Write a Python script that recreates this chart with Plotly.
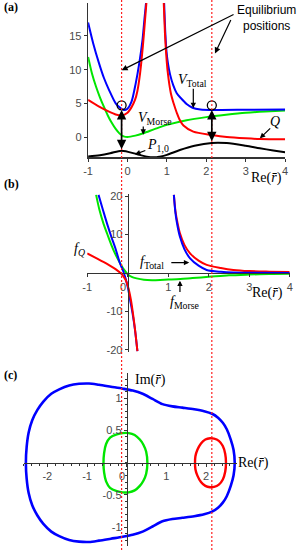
import plotly.graph_objects as go

W, H = 301, 550

# ---------------- data ----------------
# (a) potentials along Re(r)
a_total_left_x = [-1.0, -0.87, -0.72, -0.6, -0.47, -0.3, -0.18, -0.09, 0.0, 0.1, 0.21, 0.3, 0.38, 0.43, 0.47]
a_total_left_y = [17.0, 13.9, 10.9, 8.8, 7.0, 5.0, 4.3, 4.0, 4.2, 5.2, 8.0, 11.0, 14.4, 17.5, 19.9]
a_total_right_x = [0.93, 0.96, 0.99, 1.03, 1.08, 1.16, 1.25, 1.35, 1.5, 1.65, 1.85, 2.2, 3.0, 4.0]
a_total_right_y = [19.9, 15.5, 12.7, 10.8, 9.3, 7.7, 6.5, 5.8, 4.9, 4.35, 4.1, 4.02, 4.05, 4.1]
a_q_left_x = [-1.0, -0.72, -0.47, -0.3, -0.15, 0.0, 0.1, 0.19, 0.25, 0.32, 0.39, 0.44, 0.48]
a_q_left_y = [5.5, 4.5, 3.76, 3.35, 3.2, 3.6, 4.4, 5.5, 6.8, 9.5, 13.5, 17.0, 19.9]
a_q_right_x = [0.92, 0.95, 0.98, 1.02, 1.1, 1.17, 1.25, 1.32, 1.42, 1.67, 2.14, 2.52, 3.0, 3.36, 4.0]
a_q_right_y = [19.9, 15.5, 12.5, 9.7, 6.5, 5.0, 3.6, 2.6, 1.7, 0.8, 0.3, 0.0, -0.2, -0.3, -0.35]
a_morse_x = [-1.0, -0.9, -0.8, -0.7, -0.6, -0.5, -0.4, -0.3, -0.2, -0.1, 0.0, 0.2, 0.4, 0.7, 1.0, 1.5, 2.0, 2.5, 3.0, 3.5, 4.0]
a_morse_y = [11.9, 9.4, 7.5, 5.9, 4.5, 3.2, 2.1, 1.2, 0.5, 0.1, 0.0, 0.2, 0.55, 1.2, 1.8, 2.5, 2.95, 3.3, 3.6, 3.8, 3.95]
a_p_x = [-1.0, -0.7, -0.44, -0.15, 0.23, 0.49, 0.74, 0.82, 1.0, 1.33, 1.7, 2.14, 2.52, 3.0, 3.36, 3.7, 4.0]
a_p_y = [-2.88, -2.7, -2.42, -2.03, -2.53, -2.93, -3.0, -2.92, -2.65, -1.93, -1.3, -0.88, -0.9, -1.3, -1.68, -2.0, -2.28]

eq_x = [-0.15, 2.14]          # equilibrium positions
eq_circle_y = [4.7, 4.7]
eq_arrow_low = [-2.03, -0.85]
eq_arrow_high = [4.0, 4.0]

# (b) forces along Re(r)
b_q_left_x = [-1.0, -0.8, -0.6, -0.45, -0.3, -0.15, -0.05, 0.02, 0.08, 0.14, 0.19, 0.24]
b_q_left_y = [5.1, 4.0, 2.9, 2.0, 1.0, -0.3, -1.8, -4.0, -7.0, -11.3, -15.5, -20.3]
b_total_left_x = [-0.72, -0.6, -0.5, -0.4, -0.3, -0.2, -0.1, 0.0, 0.06, 0.12, 0.18, 0.24]
b_total_left_y = [20.3, 16.0, 12.5, 9.3, 6.3, 2.8, 0.2, -3.5, -7.0, -10.5, -14.8, -20.3]
b_morse_x = [-0.78, -0.7, -0.6, -0.5, -0.4, -0.3, -0.2, -0.1, 0.0, 0.1, 0.22, 0.4, 0.6, 0.8, 1.0, 1.3, 1.6, 2.0, 2.5, 3.0, 3.5, 4.0]
b_morse_y = [20.3, 16.5, 12.9, 10.0, 7.2, 4.8, 2.8, 1.0, -0.3, -1.0, -1.4, -1.75, -1.85, -1.8, -1.7, -1.55, -1.3, -1.0, -0.6, -0.4, -0.25, -0.2]
b_q_right_x = [1.14, 1.18, 1.23, 1.29, 1.4, 1.54, 1.75, 1.95, 2.3, 2.61, 3.0, 3.5, 4.0]
b_q_right_y = [20.3, 16.0, 13.0, 10.3, 7.3, 5.1, 3.2, 2.1, 1.3, 0.8, 0.5, 0.35, 0.25]
b_total_right_x = [1.14, 1.18, 1.23, 1.29, 1.4, 1.54, 1.75, 1.95, 2.3, 2.61, 3.0, 4.0]
b_total_right_y = [20.3, 15.5, 12.2, 9.4, 6.2, 3.8, 1.9, 0.8, 0.3, 0.1, 0.05, 0.0]

# (c) closed contours in the complex plane
c_blue_x = [2.72, 2.69, 2.62, 2.52, 2.42, 2.3, 2.15, 1.95, 1.7, 1.4, 1.15, 0.9, 0.65, 0.4, 0.15, -0.1,
            -0.4, -0.7, -0.95, -1.2, -1.45, -1.7, -1.9, -2.1, -2.25, -2.38, -2.47, -2.52, -2.54,
            -2.52, -2.47, -2.38, -2.25, -2.1, -1.9, -1.7, -1.45, -1.2, -0.95, -0.7, -0.4, -0.1,
            0.15, 0.4, 0.65, 0.9, 1.15, 1.4, 1.7, 1.95, 2.15, 2.3, 2.42, 2.52, 2.62, 2.69, 2.72]
c_blue_y = [0.0, 0.2, 0.36, 0.52, 0.62, 0.7, 0.76, 0.8, 0.83, 0.855, 0.875, 0.91, 0.99, 1.07, 1.12, 1.15,
            1.18, 1.21, 1.23, 1.225, 1.2, 1.14, 1.07, 0.95, 0.82, 0.66, 0.47, 0.25, 0.0,
            -0.25, -0.47, -0.66, -0.82, -0.95, -1.07, -1.14, -1.2, -1.225, -1.23, -1.21, -1.18, -1.15,
            -1.12, -1.07, -0.99, -0.91, -0.875, -0.855, -0.83, -0.8, -0.76, -0.7, -0.62, -0.52, -0.36, -0.2, 0.0]
c_green_x = [0.52, 0.49, 0.42, 0.33, 0.2, 0.05, -0.1, -0.25, -0.42, -0.52, -0.57, -0.585,
             -0.57, -0.52, -0.42, -0.25, -0.1, 0.05, 0.2, 0.33, 0.42, 0.49, 0.52]
c_green_y = [0.0, 0.17, 0.28, 0.36, 0.43, 0.46, 0.46, 0.44, 0.39, 0.29, 0.15, 0.0,
             -0.15, -0.29, -0.39, -0.44, -0.46, -0.46, -0.43, -0.36, -0.28, -0.17, 0.0]
c_red_x = [2.5, 2.48, 2.42, 2.32, 2.2, 2.1, 1.98, 1.87, 1.78, 1.73, 1.72,
           1.73, 1.78, 1.87, 1.98, 2.1, 2.2, 2.32, 2.42, 2.48, 2.5]
c_red_y = [0.0, 0.14, 0.26, 0.34, 0.375, 0.38, 0.36, 0.3, 0.2, 0.1, 0.0,
           -0.1, -0.2, -0.3, -0.36, -0.38, -0.375, -0.34, -0.26, -0.14, 0.0]

# tick labels
a_xticks = [-1, 0, 1, 2, 3, 4]
a_xticklabels = ["-1", "0", "1", "2", "3", "4"]
a_yticks = [0, 5, 10, 15]
a_yticklabels = ["0", "5", "10", "15"]
b_xticks = [-1, 0, 1, 2, 3, 4]
b_xticklabels = ["-1", "0\u00a0\u00a0\u00a0", "1", "2", "3", "4"]
b_yticks = [-20, -10, 10, 20]
b_yticklabels = ["-20", "-10", "10", "20"]
c_xticks = [-2, -1, 0, 1, 2]
c_xticklabels = ["-2", "-1", "0\u00a0\u00a0\u00a0", "1", "2"]
c_yticks = [-1, -0.5, 0.5, 1]
c_yticklabels = ["-1", "-0.5", "0.5", "1"]

# ---------------- layout geometry (pixels) ----------------
def pxx(p):
    return p / W


def pxy(p):
    return 1 - p / H


A_XR, A_YR = [-1, 4], [-3, 19.9]
B_XR, B_YR = [-1, 4], [-20.6, 20.5]
C_XR, C_YR = [-2.6, 2.78], [-1.29, 1.39]
A_XD, A_YD = [pxx(88.1), pxx(285.1)], [pxy(157.2), pxy(3.0)]
B_XD, B_YD = [pxx(87.2), pxx(289.7)], [pxy(352.3), pxy(194.1)]
C_XD, C_YD = [pxx(23.5), pxx(237.1)], [pxy(545.8), pxy(373.2)]
PANELS = {"a": (A_XR, A_YR, A_XD, A_YD), "b": (B_XR, B_YR, B_XD, B_YD), "c": (C_XR, C_YR, C_XD, C_YD)}


def to_paper(rng, dom, v):
    return dom[0] + (v - rng[0]) / (rng[1] - rng[0]) * (dom[1] - dom[0])


def zero_pos(rng, dom):
    return to_paper(rng, dom, 0)


BLUE, RED, GREEN, BLACK = "#0000ff", "#ff0000", "#00e600", "#000000"
TICKFONT = dict(family="Liberation Sans, Arial", size=11, color="#4a4a4a")
AXCOL = "#333333"
SERIF = "Liberation Serif, Times New Roman, serif"

fig = go.Figure()


def line(x, y, color, xa, ya, width=2.0):
    fig.add_trace(go.Scatter(x=x, y=y, mode="lines", xaxis=xa, yaxis=ya,
                             line=dict(color=color, width=width, shape="spline", smoothing=0.8),
                             hoverinfo="skip", showlegend=False))


# equilibrium dotted lines across the whole figure (overlay axes with panel (a) x scale)
for ex in eq_x:
    fig.add_trace(go.Scatter(x=[ex, ex], y=[0, 1], mode="lines", xaxis="x4", yaxis="y4",
                             line=dict(color="#ff2020", width=1.2, dash="2px,2px"),
                             hoverinfo="skip", showlegend=False))

# (a)
line(a_p_x, a_p_y, BLACK, "x", "y")
line(a_morse_x, a_morse_y, GREEN, "x", "y")
line(a_total_left_x, a_total_left_y, BLUE, "x", "y")
line(a_total_right_x, a_total_right_y, BLUE, "x", "y")
line(a_q_left_x, a_q_left_y, RED, "x", "y")
line(a_q_right_x, a_q_right_y, RED, "x", "y")
fig.add_trace(go.Scatter(x=eq_x, y=eq_circle_y, mode="markers", xaxis="x", yaxis="y",
                         marker=dict(symbol="circle-open", size=9, color=BLACK, line=dict(width=1.3)),
                         hoverinfo="skip", showlegend=False, cliponaxis=False))
# (b)
line(b_morse_x, b_morse_y, GREEN, "x2", "y2")
line(b_total_left_x, b_total_left_y, BLUE, "x2", "y2")
line(b_q_left_x, b_q_left_y, RED, "x2", "y2")
line(b_q_right_x, b_q_right_y, RED, "x2", "y2")
line(b_total_right_x, b_total_right_y, BLUE, "x2", "y2")
# (c)
line(c_blue_x, c_blue_y, BLUE, "x3", "y3", 2.6)
line(c_green_x, c_green_y, GREEN, "x3", "y3", 2.4)
line(c_red_x, c_red_y, RED, "x3", "y3", 2.4)


def axis_common(**kw):
    d = dict(showgrid=False, zeroline=False, showline=True, linecolor=AXCOL, linewidth=1.4,
             ticks="outside", ticklen=3, tickwidth=1, tickcolor=AXCOL, tickfont=TICKFONT,
             tickmode="array", fixedrange=True, automargin=False)
    d.update(kw)
    return d


fig.update_layout(
    template="none",
    width=W, height=H, margin=dict(l=0, r=0, t=0, b=0, pad=0),
    paper_bgcolor="white", plot_bgcolor="rgba(0,0,0,0)",
    xaxis4=dict(domain=A_XD, range=A_XR, visible=False, anchor="y4", fixedrange=True, automargin=False),
    yaxis4=dict(domain=[0, 1], range=[0, 1], visible=False, anchor="x4", fixedrange=True, automargin=False),
    xaxis=axis_common(domain=A_XD, range=A_XR, anchor="y", tickvals=a_xticks, ticktext=a_xticklabels),
    yaxis=axis_common(domain=A_YD, range=A_YR, anchor="x", tickvals=a_yticks, ticktext=a_yticklabels),
    xaxis2=axis_common(domain=B_XD, range=B_XR, anchor="free", position=zero_pos(B_YR, B_YD),
                       tickvals=b_xticks, ticktext=b_xticklabels),
    yaxis2=axis_common(domain=B_YD, range=B_YR, anchor="free", position=zero_pos(B_XR, B_XD),
                       tickvals=b_yticks, ticktext=b_yticklabels),
    xaxis3=axis_common(domain=C_XD, range=C_XR, anchor="free", position=zero_pos(C_YR, C_YD),
                       tickvals=c_xticks, ticktext=c_xticklabels,
                       minor=dict(dtick=0.2, ticklen=2, tickcolor=AXCOL, ticks="outside")),
    yaxis3=axis_common(domain=C_YD, range=C_YR, anchor="free", position=zero_pos(C_XR, C_XD),
                       tickvals=c_yticks, ticktext=c_yticklabels,
                       minor=dict(dtick=0.1, ticklen=2, tickcolor=AXCOL, ticks="outside")),
)

ann = []
AXREF = {"a": ("x", "y"), "b": ("x2", "y2"), "c": ("x3", "y3")}


def arrow(p, tip, tail, both=False, width=1.3, size=1.0):
    xr, yr = AXREF[p]
    d = dict(x=tip[0], y=tip[1], ax=tail[0], ay=tail[1], xref=xr, yref=yr, axref=xr, ayref=yr,
             text="", showarrow=True, arrowhead=2, arrowsize=size, arrowwidth=width,
             arrowcolor=BLACK, standoff=0, startstandoff=0)
    if both:
        d.update(arrowside="end+start", startarrowhead=2, startarrowsize=size)
    ann.append(d)


def label(p, x, y, text, size=14, family=SERIF, xanchor="center"):
    if p == "paper":
        px_, py_ = x, y
    else:
        xr, yr, xd, yd = PANELS[p]
        px_, py_ = to_paper(xr, xd, x), to_paper(yr, yd, y)
    ann.append(dict(x=px_, y=py_, xref="paper", yref="paper", text=text, showarrow=False,
                    xanchor=xanchor, yanchor="middle",
                    font=dict(family=family, size=size, color=BLACK)))


# (a) annotations
for i, ex in enumerate(eq_x):
    arrow("a", (ex, eq_arrow_high[i]), (ex, eq_arrow_low[i]), both=True, width=1.7, size=1.1)
arrow("a", (-0.15, 9.9), (2.73, 18.3), width=1.2)
arrow("a", (2.22, 12.4), (2.64, 17.6), width=1.2)
arrow("a", (1.67, 4.3), (1.67, 7.4), width=1.2, size=0.9)
arrow("a", (0.4, 0.35), (0.4, 1.8), width=1.2, size=0.9)
arrow("a", (3.36, -0.2), (3.66, 1.5), width=1.2, size=0.9)
arrow("a", (0.19, -2.57), (0.49, -1.93), width=1.2, size=0.9)
label("a", 1.66, 8.4, "<i>V</i><sub>Total</sub>", 14)
label("a", 0.70, 2.8, "<i>V</i><sub>Morse</sub>", 14)
label("a", 3.75, 2.3, "<i>Q</i>", 14)
label("a", 0.77, -1.3, "<i>P</i><sub>1,0</sub>", 14)
label("a", 3.54, -6.1, "Re(<i>r\u0304</i>)", 14)
label("a", 3.53, 17.7, "Equilibrium<br>positions", 12, "Liberation Sans, Arial")
# (b) annotations
arrow("b", (1.52, 2.7), (1.04, 2.7), width=1.2, size=0.9)
arrow("b", (1.29, -2.0), (1.29, -5.3), width=1.2, size=0.9)
label("b", -1.2, 6.0, "<i>f</i><sub><i>Q</i></sub>", 14)
label("b", 0.61, 2.7, "<i>f</i><sub>Total</sub>", 14)
label("b", 1.41, -7.6, "<i>f</i><sub>Morse</sub>", 14)
label("b", 3.46, -5.3, "Re(<i>r\u0304</i>)", 14)
# (c) annotations
label("c", 0.59, 1.28, "Im(<i>r\u0304</i>)", 14)
label("c", 3.19, 0.0, "Re(<i>r\u0304</i>)", 14)
# panel letters
label("paper", pxx(2), pxy(7), "<b>(a)</b>", 12, SERIF, "left")
label("paper", pxx(2), pxy(184), "<b>(b)</b>", 12, SERIF, "left")
label("paper", pxx(2), pxy(375), "<b>(c)</b>", 12, SERIF, "left")

fig.update_layout(annotations=ann)
fig.write_html("out.html", config={"displayModeBar": False, "staticPlot": True},
               post_script="document.body.style.margin='0px';")
